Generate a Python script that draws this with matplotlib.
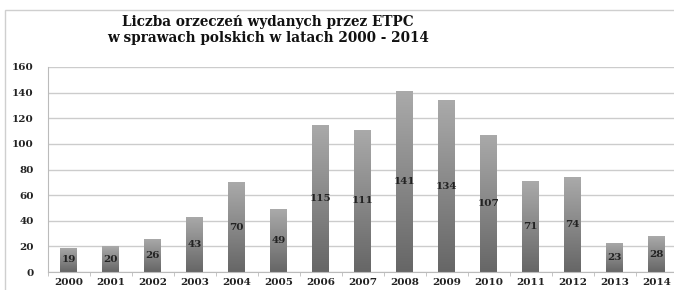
import numpy as np
import matplotlib.pyplot as plt
from matplotlib.colors import LinearSegmentedColormap
from matplotlib.patches import Rectangle

years = ['2000', '2001', '2002', '2003', '2004', '2005', '2006', '2007',
         '2008', '2009', '2010', '2011', '2012', '2013', '2014']
counts = [19, 20, 26, 43, 70, 49, 115, 111, 141, 134, 107, 71, 74, 23, 28]
yticks = [0, 20, 40, 60, 80, 100, 120, 140, 160]

plt.rcParams['font.family'] = 'DejaVu Serif'

fig = plt.figure(figsize=(6.74, 2.9), dpi=100)
# outer frame of the chart
fig.patches.append(Rectangle((5 / 674, -0.1), 1.2, (290 - 10) / 290 + 0.1,
                             transform=fig.transFigure, fill=False,
                             edgecolor='#cfcfcf', linewidth=1.0))

ax = fig.add_axes([47.5 / 674, 18 / 290, 630 / 674, 205 / 290])

x = np.arange(len(years))
bars = ax.bar(x, counts, width=0.4, color='none', edgecolor='none', zorder=2)

# vertical gradient, light at top and dark at bottom
cmap = LinearSegmentedColormap.from_list('g', ['#666666', '#aaaaaa'])
grad = np.linspace(0, 1, 256).reshape(-1, 1)
for b in bars:
    x0, y0 = b.get_x(), b.get_y()
    w, h = b.get_width(), b.get_height()
    im = ax.imshow(grad, cmap=cmap, origin='lower', aspect='auto',
                   extent=[x0, x0 + w, y0, y0 + h], zorder=2)
    im.set_clip_path(b)

for xi, v in zip(x, counts):
    ax.text(xi, v / 2, str(v), ha='center', va='center', fontsize=7.5,
            fontweight='bold', color='#222222', zorder=3)

ax.set_xlim(-0.5, len(years) - 0.5)
ax.set_ylim(0, 160)
ax.set_yticks(yticks)
ax.set_yticklabels([str(t) for t in yticks], fontsize=7.5, fontweight='bold',
                   color='#222222')
ax.set_xticks(x)
ax.set_xticklabels(years, fontsize=7.5, fontweight='bold', color='#222222')
ax.set_xticks(np.arange(-0.5, len(years)), minor=True)
ax.tick_params(axis='x', which='major', length=0, pad=4)
ax.tick_params(axis='x', which='minor', length=3, color='#bbbbbb')
ax.tick_params(axis='y', length=0, pad=10)

ax.grid(axis='y', color='#cccccc', linewidth=1.0, zorder=0)
ax.set_axisbelow(True)
for s in ['top', 'right']:
    ax.spines[s].set_visible(False)
ax.spines['left'].set_color('#bbbbbb')
ax.spines['bottom'].set_color('#bbbbbb')

fig.text(268 / 674, 1 - 22 / 290, 'Liczba orzeczeń wydanych przez ETPC',
         ha='center', va='center', fontsize=9.8, fontweight='bold',
         color='#111111')
fig.text(268 / 674, 1 - 38 / 290, 'w sprawach polskich w latach 2000 - 2014',
         ha='center', va='center', fontsize=9.8, fontweight='bold',
         color='#111111')

fig.savefig('out.png', dpi=100)
